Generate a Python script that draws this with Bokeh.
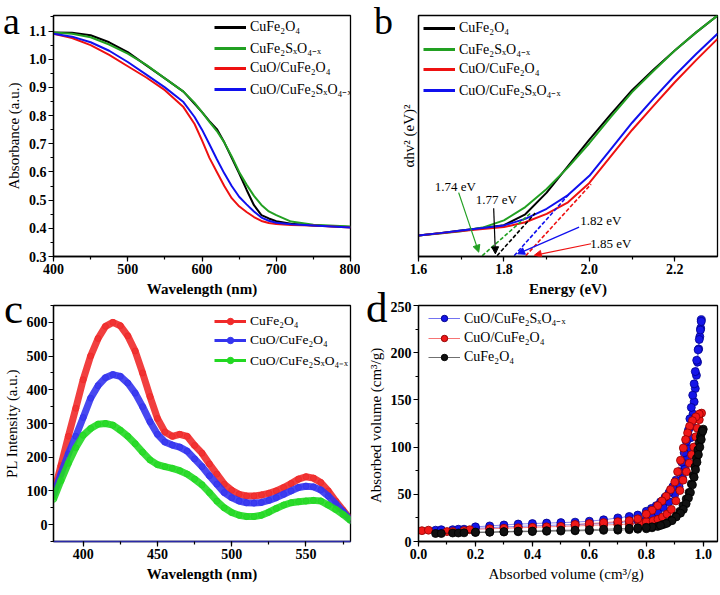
from bokeh.plotting import figure
from bokeh.models import (Legend, LegendItem, Label, Arrow, NormalHead, GridBox, Div, FixedTicker,
                          SingleIntervalTicker, Range1d, NumeralTickFormatter)
from bokeh.embed import file_html
from bokeh.resources import INLINE

FONT = "Liberation Serif"

# ---------------- data ----------------
# (a) UV-vis absorbance
wl_a = [400, 425, 450, 475, 500, 525, 550, 575, 590, 600, 610, 620, 630, 640, 650, 660, 670, 680, 690, 700, 720, 750, 800]
abs_cufe2o4 = [1.095, 1.094, 1.085, 1.060, 1.025, 0.978, 0.932, 0.885, 0.842, 0.812, 0.780, 0.752, 0.705, 0.650, 0.595, 0.537, 0.482, 0.447, 0.435, 0.425, 0.416, 0.410, 0.405]
abs_cufe2sxo4 = [1.095, 1.090, 1.078, 1.052, 1.020, 0.980, 0.932, 0.885, 0.845, 0.812, 0.778, 0.745, 0.705, 0.655, 0.600, 0.555, 0.515, 0.483, 0.460, 0.447, 0.424, 0.413, 0.406]
abs_cuo_cufe2o4 = [1.090, 1.075, 1.050, 1.015, 0.975, 0.935, 0.890, 0.830, 0.770, 0.712, 0.650, 0.600, 0.550, 0.507, 0.478, 0.458, 0.440, 0.426, 0.419, 0.415, 0.412, 0.410, 0.403]
abs_cuo_cufe2sxo4 = [1.090, 1.080, 1.060, 1.030, 0.990, 0.945, 0.900, 0.848, 0.795, 0.750, 0.698, 0.645, 0.595, 0.550, 0.512, 0.485, 0.460, 0.438, 0.427, 0.420, 0.414, 0.410, 0.403]

# (b) Tauc plot
e_b = [1.6, 1.65, 1.7, 1.75, 1.8, 1.85, 1.9, 1.95, 2.0, 2.05, 2.1, 2.15, 2.2, 2.25, 2.3]
tauc_cufe2o4 = [8.7, 9.7, 10.8, 11.8, 13.0, 17.5, 26.5, 37.5, 48.5, 59, 69, 77.5, 85.5, 93, 100]
tauc_cufe2sxo4 = [8.7, 9.5, 10.5, 12.0, 15.0, 20.5, 28.0, 37.0, 47.0, 57.8, 68.2, 77, 85.5, 93, 100]
tauc_cuo_cufe2o4 = [8.7, 9.6, 10.6, 11.4, 12.2, 14.2, 17.7, 22.5, 30.5, 41.5, 52.5, 62.5, 72.3, 81.5, 90.3]
tauc_cuo_cufe2sxo4 = [8.7, 9.7, 10.8, 11.8, 12.9, 15.6, 19.8, 25.5, 33.5, 44.5, 55.5, 65.5, 75.1, 84, 92.4]
gap_labels = ["1.74 eV", "1.77 eV", "1.82 eV", "1.85 eV"]
gap_intercepts = [1.749, 1.784, 1.824, 1.851]
tangent_end = [(1.865, 18.4), (1.873, 18.0), (1.953, 26.0), (2.004, 30.0)]

# (c) PL spectra
wl_c = [380, 385, 390, 395, 400, 405, 410, 415, 420, 425, 430, 435, 440, 445, 450, 455, 460, 465, 470, 475,
        480, 485, 490, 495, 500, 505, 510, 515, 520, 525, 530, 535, 540, 545, 550, 555, 560, 565, 570, 575, 580]
pl_cufe2o4 = [90, 175, 262, 345, 430, 500, 552, 588, 600, 590, 560, 515, 450, 380, 315, 275, 262, 268, 262, 235,
              212, 180, 150, 120, 102, 90, 85, 85, 88, 93, 100, 110, 122, 135, 142, 138, 125, 100, 70, 43, 15]
pl_cuo_cufe2o4 = [88, 150, 210, 262, 318, 375, 412, 436, 445, 440, 420, 390, 350, 305, 268, 245, 236, 230, 218, 195,
                  172, 145, 120, 95, 80, 70, 65, 64, 66, 72, 80, 90, 100, 110, 114, 112, 103, 85, 62, 38, 14]
pl_cuo_cufe2sxo4 = [75, 130, 182, 228, 265, 285, 298, 300, 295, 280, 262, 240, 215, 192, 178, 172, 167, 160, 150, 135,
                    118, 95, 70, 50, 36, 28, 24, 24, 28, 37, 48, 58, 65, 68, 70, 72, 70, 58, 45, 30, 12]

# (d) N2 isotherms (adsorption / desorption branches)
d_blue_ads_x = [0.06, 0.08, 0.12, 0.14, 0.16, 0.20, 0.25, 0.30, 0.35, 0.40, 0.45, 0.50, 0.55, 0.60, 0.65, 0.70, 0.74, 0.77,
                0.80, 0.82, 0.84, 0.86, 0.88, 0.90, 0.915, 0.927, 0.935, 0.944, 0.951, 0.956, 0.960, 0.964, 0.968, 0.972,
                0.976, 0.980, 0.984, 0.988, 0.991, 0.993]
d_blue_ads_y = [12, 12.5, 12.5, 13, 13, 14, 14.5, 15.5, 16, 16.5, 17, 17.5, 18, 18.5, 19, 20, 21, 22,
                25, 27, 31, 36, 42, 50, 58, 67, 77, 88, 98, 110, 122, 135, 148, 162, 176, 190, 204, 217, 226, 235]
d_blue_des_x = [0.993, 0.990, 0.986, 0.982, 0.977, 0.972, 0.968, 0.963, 0.958, 0.953, 0.948, 0.941, 0.933, 0.925, 0.915,
                0.904, 0.893, 0.880, 0.866, 0.850, 0.835, 0.818, 0.800, 0.770, 0.740, 0.700, 0.650, 0.600, 0.550, 0.500,
                0.450, 0.400, 0.350, 0.300, 0.250, 0.200]
d_blue_des_y = [233, 224, 214, 203, 192, 180, 167, 155, 142, 130, 118, 106, 94, 84, 74, 65, 58, 52, 47, 42, 38, 35, 32,
                28, 26.5, 25, 23, 21.5, 20.5, 20, 19.5, 19, 18.5, 17.5, 16.5, 15.5]
d_red_ads_x = [0.012, 0.035, 0.10, 0.12, 0.16, 0.18, 0.25, 0.30, 0.35, 0.40, 0.45, 0.50, 0.55, 0.60, 0.65, 0.70, 0.74,
               0.776, 0.80, 0.824, 0.841, 0.857, 0.873, 0.888, 0.904, 0.918, 0.929, 0.941, 0.951, 0.959, 0.967, 0.974,
               0.979, 0.986, 0.994]
d_red_ads_y = [11.5, 12, 10.5, 10.5, 11.5, 12.5, 13.5, 14, 14.5, 15, 15.5, 16, 16.5, 17, 17.5, 18, 18.5, 20, 21, 22,
               23.5, 26, 29, 34, 43, 54, 65, 74, 83, 92, 100, 111, 120, 129, 136]
d_red_des_x = [0.986, 0.974, 0.962, 0.952, 0.945, 0.938, 0.930, 0.920, 0.910, 0.900, 0.885, 0.870, 0.855, 0.840, 0.820,
               0.800, 0.770, 0.740, 0.700, 0.650, 0.600, 0.550]
d_red_des_y = [135, 132, 128, 122, 115, 108, 99, 86, 74, 63, 55, 48, 43, 38, 33, 29, 24, 22, 21, 20, 19, 18]
d_black_ads_x = [0.06, 0.08, 0.12, 0.14, 0.16, 0.20, 0.25, 0.30, 0.35, 0.40, 0.45, 0.50, 0.55, 0.60, 0.65, 0.70, 0.74,
                 0.77, 0.80, 0.82, 0.84, 0.86, 0.875, 0.89, 0.905, 0.918, 0.929, 0.94, 0.95, 0.958, 0.965, 0.971, 0.976,
                 0.981, 0.986, 0.990, 0.994, 0.997, 1.0]
d_black_ads_y = [8.5, 8.5, 9, 9, 9.2, 9.5, 9.8, 10, 10.3, 10.5, 10.8, 11, 11.3, 11.5, 11.8, 12, 12.5, 13, 13.5, 14.5,
                 16, 18, 20, 23, 27, 32, 38, 45, 52, 61, 70, 79, 88, 97, 105, 111, 115, 118, 119]
d_black_des_x = [0.998, 0.993, 0.988, 0.983, 0.978, 0.973, 0.968, 0.962, 0.955, 0.948, 0.940, 0.930, 0.920, 0.905, 0.890,
                 0.870, 0.850, 0.820, 0.800, 0.770, 0.740, 0.700, 0.650, 0.600, 0.550, 0.500, 0.450, 0.400, 0.350, 0.300,
                 0.250, 0.200]
d_black_des_y = [117, 108, 100, 92, 84, 76, 68, 60, 52, 46, 40, 34, 30, 26, 22, 19, 17, 15.5, 15, 14.5, 14, 13.5, 13,
                 12.5, 12, 12, 11.5, 11, 11, 10.5, 10, 10]

LBL_A = ["CuFe\u2082O\u2084", "CuFe\u2082S\u2093O\u2084\u208b\u2093", "CuO/CuFe\u2082O\u2084", "CuO/CuFe\u2082S\u2093O\u2084\u208b\u2093"]
PANEL_LETTERS = ["a", "b", "c", "d"]

OFF = [-1e6, -1e6 + 1]  # off-screen points for legend-only renderers


# ---------------- helpers ----------------
def make_fig(w, h, xr, yr, bl, br, bt, bb):
    p = figure(width=w, height=h, x_range=Range1d(*xr), y_range=Range1d(*yr),
               output_backend="svg", toolbar_location=None,
               min_border_left=bl, min_border_right=br, min_border_top=bt, min_border_bottom=bb)
    p.xgrid.visible = False
    p.ygrid.visible = False
    p.outline_line_color = "black"
    p.outline_line_width = 1.3
    p.outline_line_alpha = 1
    p.background_fill_color = "white"
    p.border_fill_color = "white"
    for ax in (p.xaxis[0], p.yaxis[0]):
        ax.axis_line_width = 1.3
        ax.axis_line_color = "black"
        ax.major_tick_in = 0
        ax.major_tick_out = 5
        ax.minor_tick_in = 0
        ax.minor_tick_out = 3
        ax.major_tick_line_width = 1.2
        ax.minor_tick_line_width = 1.2
        ax.major_label_text_font = FONT
        ax.major_label_text_font_size = "14px"
        ax.major_label_text_font_style = "bold"
        ax.major_label_text_color = "black"
        ax.major_label_standoff = 2
        ax.axis_label_text_font = FONT
        ax.axis_label_text_font_size = "15px"
        ax.axis_label_text_color = "black"
        ax.axis_label_standoff = 4
    return p


def add_legend(p, items, loc, fs="14px"):
    lg = Legend(items=items, location=loc, label_text_font=FONT, label_text_font_size=fs,
                label_text_color="black", glyph_width=32, glyph_height=16, label_height=16,
                spacing=3, padding=4, border_line_alpha=0, background_fill_alpha=0,
                label_standoff=4, margin=0)
    p.add_layout(lg, "center")


def letter_div(t, top, left, fs):
    return Div(text=t, width=36, height=32, margin=(top, 0, 0, left),
               styles={"font-family": FONT, "font-size": fs, "line-height": "30px",
                       "color": "black", "position": "relative", "z-index": "10",
                       "overflow": "visible", "pointer-events": "none"})


# ---------------- (a) ----------------
pa = make_fig(360, 301, (400, 800), (0.3, 1.155), 52, 10, 15, 44)
pa.xaxis.ticker = SingleIntervalTicker(interval=100, num_minor_ticks=2)
pa.yaxis.ticker = SingleIntervalTicker(interval=0.1, num_minor_ticks=2)
pa.yaxis.formatter = NumeralTickFormatter(format="0.0")
pa.xaxis.axis_label = "Wavelength (nm)"
pa.xaxis.axis_label_text_font_style = "bold"
pa.yaxis.axis_label = "Absorbance (a.u.)"
pa.yaxis.axis_label_text_font_style = "normal"
cols_a = ["black", "#22a022", "#ee1111", "#1010ee"]
series_a = [abs_cufe2o4, abs_cufe2sxo4, abs_cuo_cufe2o4, abs_cuo_cufe2sxo4]
items = []
for lab, c, ys in zip(LBL_A, cols_a, series_a):
    pa.line(wl_a, ys, line_color=c, line_width=2)
    dummy = pa.line(OFF, OFF, line_color=c, line_width=3)
    items.append(LegendItem(label=lab, renderers=[dummy]))
add_legend(pa, items, (157, 154))

# ---------------- (b) ----------------
pb = make_fig(360, 301, (1.6, 2.3), (0, 100), 58, 3, 15, 45)
pb.xaxis.ticker = SingleIntervalTicker(interval=0.2, num_minor_ticks=2)
pb.xaxis.formatter = NumeralTickFormatter(format="0.0")
pb.yaxis.ticker = FixedTicker(ticks=[], minor_ticks=[])
pb.yaxis.major_tick_line_color = None
pb.yaxis.minor_tick_line_color = None
pb.yaxis.major_label_standoff = 0
pb.yaxis[0].major_tick_out = 0
pb.yaxis[0].minor_tick_out = 0
pb.xaxis.axis_label = "Energy (eV)"
pb.xaxis.axis_label_text_font_style = "bold"
pb.yaxis.axis_label = "\u03b1hv\u00b2 (eV)\u00b2"
pb.yaxis.axis_label_text_font_style = "normal"
pb.yaxis.axis_label_standoff = 2
series_b = [tauc_cufe2o4, tauc_cufe2sxo4, tauc_cuo_cufe2o4, tauc_cuo_cufe2sxo4]
items = []
for lab, c, ys in zip(LBL_A, cols_a, series_b):
    pb.line(e_b, ys, line_color=c, line_width=2)
    dummy = pb.line(OFF, OFF, line_color=c, line_width=3)
    items.append(LegendItem(label=lab, renderers=[dummy]))
add_legend(pb, items, (1, 153))

# tangents: order green(1.74), black(1.77), blue(1.82), red(1.85)
tan_cols = ["#22a022", "black", "#1010ee", "#ee1111"]
for x0, (x1, y1), c in zip(gap_intercepts, tangent_end, tan_cols):
    pb.line([x0, x1], [0.3, y1], line_color=c, line_width=1.6, line_dash="4 2")

arrow_specs = [  # (text x, text y, arrow start, arrow end)
    (1.686, 29.0, (1.694, 26.5), (1.741, 1.8)),
    (1.782, 23.5, (1.776, 20.0), (1.780, 1.1)),
    (2.027, 15.0, (1.976, 12.2), (1.832, 1.1)),
    (2.050, 5.4, (2.004, 5.3), (1.871, 0.5)),
]
for lab, c, (tx, ty, s, e) in zip(gap_labels, tan_cols, arrow_specs):
    pb.add_layout(Label(x=tx, y=ty, text=lab, text_font=FONT, text_font_size="13px",
                        text_color="black", text_align="center", text_baseline="middle"))
    pb.add_layout(Arrow(end=NormalHead(size=7, fill_color=c, line_color=c, line_width=1),
                        x_start=s[0], y_start=s[1], x_end=e[0], y_end=e[1],
                        line_color=c, line_width=1.2))

# ---------------- (c) ----------------
pc = make_fig(360, 294, (380, 580), (-50, 650), 50, 9, 4, 46)
pc.xaxis.ticker = SingleIntervalTicker(interval=50, num_minor_ticks=2)
pc.yaxis.ticker = SingleIntervalTicker(interval=100, num_minor_ticks=2)
pc.xaxis.axis_label = "Wavelength (nm)"
pc.xaxis.axis_label_text_font_style = "bold"
pc.yaxis.axis_label = "PL Intensity (a.u.)"
pc.yaxis.axis_label_text_font_style = "normal"
pc.yaxis[0].major_label_standoff = 1
pc.xaxis.axis_line_color = "#2a2aa8"
LBL_C = ["CuFe\u2082O\u2084", "CuO/CuFe\u2082O\u2084", "CuO/CuFe\u2082S\u2093O\u2084\u208b\u2093"]
cols_c = ["#f02a2a", "#3434ee", "#22d822"]
series_c = [pl_cufe2o4, pl_cuo_cufe2o4, pl_cuo_cufe2sxo4]
items = []
for lab, c, ys in zip(LBL_C, cols_c, series_c):
    pc.line(wl_c, ys, line_color=c, line_width=7, line_alpha=0.9)
    pc.scatter(wl_c, ys, marker="circle", size=6, fill_color=c, line_color=c, fill_alpha=0.6, line_alpha=0.9)
    dl = pc.line(OFF, OFF, line_color=c, line_width=3)
    ds = pc.scatter(OFF, OFF, marker="circle", size=7, fill_color=c, line_color=c)
    items.append(LegendItem(label=lab, renderers=[dl, ds]))
add_legend(pc, items, (157, 168), fs="13.5px")

# ---------------- (d) ----------------
pd_ = make_fig(360, 294, (0.0, 1.05), (0, 250), 58, 2, 3, 54)
pd_.xaxis.ticker = SingleIntervalTicker(interval=0.2, num_minor_ticks=2)
pd_.xaxis.formatter = NumeralTickFormatter(format="0.0")
pd_.yaxis.ticker = SingleIntervalTicker(interval=50, num_minor_ticks=2)
pd_.xaxis.axis_label = "Absorbed volume  (cm\u00b3/g)"
pd_.xaxis.axis_label_text_font_style = "normal"
pd_.yaxis.axis_label = "Absorbed volume  (cm\u00b3/g)"
pd_.yaxis.axis_label_text_font_style = "normal"
LBL_D = ["CuO/CuFe\u2082S\u2093O\u2084\u208b\u2093", "CuO/CuFe\u2082O\u2084", "CuFe\u2082O\u2084"]
d_series = [
    ("#1515e8", "#00008a", d_blue_ads_x, d_blue_ads_y, d_blue_des_x, d_blue_des_y),
    ("#f01818", "#900000", d_red_ads_x, d_red_ads_y, d_red_des_x, d_red_des_y),
    ("#111111", "#000000", d_black_ads_x, d_black_ads_y, d_black_des_x, d_black_des_y),
]
items = []
for lab, (c, lc, ax_, ay_, dx_, dy_) in zip(LBL_D, d_series):
    for xs, ys in ((ax_, ay_), (dx_, dy_)):
        pd_.line(xs, ys, line_color=c, line_width=1, line_alpha=0.5)
        pd_.scatter(xs, ys, marker="circle", size=8, fill_color=c, line_color=lc, line_width=0.8)
    dl = pd_.line(OFF, OFF, line_color=c, line_width=1, line_alpha=0.6)
    ds = pd_.scatter(OFF, OFF, marker="circle", size=8, fill_color=c, line_color=lc)
    items.append(LegendItem(label=lab, renderers=[dl, ds]))
add_legend(pd_, items, (6, 172))

# panel letters as overlaid text in the same grid cells
da = letter_div(PANEL_LETTERS[0], 6, 3, "38px")
db = letter_div(PANEL_LETTERS[1], 6, 14, "38px")
dc = letter_div(PANEL_LETTERS[2], -7, 4, "43px")
dd = letter_div(PANEL_LETTERS[3], -8, 6, "43px")

layout = GridBox(children=[(pa, 0, 0), (pb, 0, 1), (pc, 1, 0), (pd_, 1, 1),
                           (da, 0, 0), (db, 0, 1), (dc, 1, 0), (dd, 1, 1)], spacing=0)
open("out.html", "w").write(file_html(layout, INLINE))
